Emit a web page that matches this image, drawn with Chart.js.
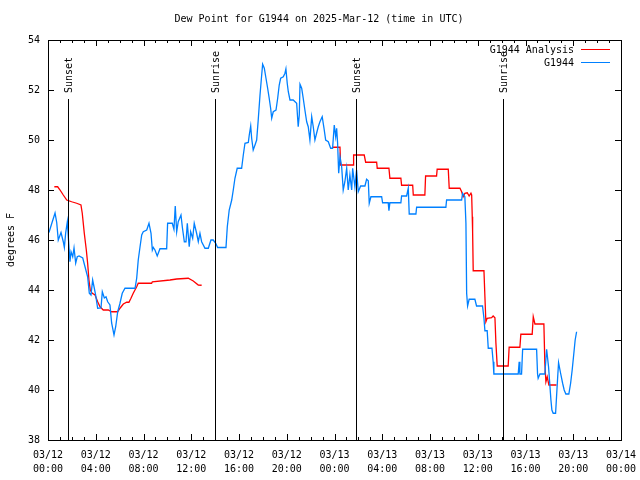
<!DOCTYPE html>
<html>
<head>
<meta charset="utf-8">
<script src="https://cdn.jsdelivr.net/npm/chart.js@4"></script>
<style>
  html, body { margin: 0; padding: 0; background: #fff; }
  canvas { display: block; }
</style>
</head>
<body>
<canvas id="dewChart" width="640" height="480"></canvas>
<script>
// hours since 03/12 00:00 UTC
const blueHours = [0.08, 0.34, 0.59, 0.73, 0.86, 1.09, 1.28, 1.37, 1.48, 1.62, 1.70, 1.84, 1.93, 2.07, 2.18, 2.32, 2.45, 2.60, 2.91, 3.10,
  3.32, 3.46, 3.60, 3.74, 3.88, 3.99, 4.16, 4.44, 4.55, 4.72, 4.86, 5.00, 5.19, 5.33, 5.53, 5.67, 5.84, 6.03, 6.22, 6.45,
  7.29, 7.43, 7.56, 7.71, 7.85, 7.98, 8.27, 8.46, 8.63, 8.74, 8.82, 8.96, 9.15, 9.38, 9.94, 10.02, 10.41, 10.55, 10.66, 10.78,
  10.91, 11.14, 11.25, 11.42, 11.56, 11.67, 11.83, 11.95, 12.12, 12.25, 12.45, 12.59, 12.73, 12.87, 13.15, 13.43, 13.65, 13.84, 14.05, 14.21,
  14.91, 15.02, 15.18, 15.39, 15.52, 15.66, 15.85, 16.22, 16.36, 16.50, 16.78, 16.86, 16.98, 17.06, 17.19, 17.34, 17.48, 17.61, 17.76, 17.90,
  17.98, 18.12, 18.26, 18.40, 18.53, 18.65, 18.74, 18.87, 19.10, 19.24, 19.37, 19.49, 19.71, 19.85, 19.93, 20.04, 20.13, 20.27, 20.54, 20.83,
  20.96, 21.05, 21.11, 21.25, 21.38, 21.52, 21.67, 21.80, 21.94, 22.09, 22.22, 22.36, 22.50, 22.64, 22.78, 22.97, 23.12, 23.26, 23.48, 23.68,
  23.84, 23.98, 24.10, 24.18, 24.26, 24.35, 24.46, 24.60, 24.73, 24.87, 25.02, 25.15, 25.29, 25.44, 25.52, 25.71, 25.85, 25.99, 26.19, 26.55,
  26.69, 26.83, 26.91, 27.05, 27.95, 28.03, 28.50, 28.56, 28.64, 29.56, 29.62, 30.04, 30.18, 30.26, 30.82, 30.88, 33.33, 33.39, 34.65, 34.73,
  34.92, 35.01, 35.07, 35.15, 35.28, 35.76, 35.90, 36.40, 36.52, 36.60, 36.79, 36.88, 37.19, 37.29, 37.35, 39.39, 39.47, 39.53, 39.67, 39.76,
  40.93, 41.01, 41.06, 41.21, 41.62, 41.77, 41.93, 42.04, 42.13, 42.21, 42.32, 42.52, 42.60, 42.69, 42.77, 42.94, 43.11, 43.24, 43.38, 43.63,
  43.78, 43.91, 44.05, 44.16, 44.28];
const blueValues = [46.3, 46.7, 47.08, 46.7, 46.0, 46.3, 45.93, 45.7, 46.28, 46.73, 46.13, 45.13, 45.53, 45.33, 45.68, 45.08, 45.33, 45.36, 45.28, 44.93,
  44.53, 43.87, 43.8, 44.4, 44.07, 43.8, 43.27, 43.28, 43.93, 43.68, 43.73, 43.53, 43.4, 42.68, 42.2, 42.53, 43.13, 43.47, 43.87, 44.07,
  44.07, 44.47, 45.2, 45.73, 46.2, 46.33, 46.4, 46.67, 46.27, 45.6, 45.7, 45.6, 45.36, 45.65, 45.65, 46.67, 46.67, 46.43, 47.36, 46.33,
  46.73, 47.0, 46.53, 45.93, 45.93, 46.67, 45.73, 46.33, 46.07, 46.67, 46.27, 45.93, 46.27, 45.93, 45.67, 45.67, 46.0, 46.0, 45.87, 45.7,
  45.7, 46.53, 47.2, 47.6, 48.0, 48.47, 48.87, 48.87, 49.4, 49.87, 49.9, 50.2, 50.56, 50.07, 49.6, 49.8, 50.0, 50.8, 51.8, 52.6,
  53.03, 52.87, 52.47, 52.07, 51.67, 51.27, 50.87, 51.13, 51.2, 51.67, 52.2, 52.47, 52.53, 52.67, 52.84, 52.27, 51.93, 51.6, 51.6, 51.47,
  50.53, 51.0, 52.23, 52.07, 51.67, 51.2, 50.73, 50.53, 50.0, 50.93, 50.53, 50.0, 50.27, 50.53, 50.73, 50.93, 50.47, 50.0, 49.93, 49.67,
  49.67, 50.6, 50.13, 50.47, 49.87, 48.67, 49.33, 48.93, 48.0, 48.33, 48.87, 48.0, 48.6, 48.0, 48.87, 48.13, 48.8, 47.93, 48.16, 48.16,
  48.43, 48.37, 47.47, 47.73, 47.73, 47.49, 47.49, 47.17, 47.49, 47.49, 47.76, 47.76, 48.07, 47.04, 47.04, 47.31, 47.31, 47.6, 47.6, 47.87,
  47.73, 46.67, 43.87, 43.36, 43.63, 43.63, 43.36, 43.36, 42.87, 42.37, 42.37, 41.67, 41.67, 41.13, 40.64, 40.64, 41.13, 40.64, 40.64, 41.63,
  41.63, 40.64, 40.47, 40.64, 40.64, 41.63, 40.93, 40.2, 39.6, 39.2, 39.07, 39.07, 39.73, 40.47, 41.09, 40.67, 40.27, 40.0, 39.84, 39.84,
  40.27, 40.8, 41.47, 42.0, 42.33];

const redHours = [0.53, 0.81, 1.01, 1.28, 1.57, 1.98, 2.40, 2.76, 2.87, 3.04, 3.21, 3.32, 3.43, 3.54, 3.71, 3.94, 4.16, 4.36, 4.63, 5.05,
  5.33, 5.84, 6.03, 6.31, 6.59, 6.78, 6.95, 7.14, 7.43, 7.56, 8.68, 8.74, 10.22, 10.78, 11.75, 12.17, 12.59, 12.87,
  18.0,
  23.87, 24.46, 24.51, 25.57, 25.60, 26.49, 26.61, 27.53, 27.58, 28.56, 28.64, 29.56, 29.62, 30.55, 30.60, 31.57, 31.63, 32.55, 32.60, 33.53,
  33.61, 34.51, 34.65, 34.78, 34.92, 35.12, 35.28, 35.43, 35.49, 35.54, 35.57, 35.62, 36.52, 36.60, 36.68, 36.79, 37.16, 37.29, 37.44, 37.52,
  37.63, 38.55, 38.63, 39.53, 39.61, 40.56, 40.65, 40.79, 41.54, 41.62, 41.71, 41.82, 41.96, 42.60];
const redValues = [48.13, 48.13, 48.0, 47.8, 47.6, 47.53, 47.47, 47.4, 47.07, 46.27, 45.6, 45.07, 44.4, 44.0, 43.87, 43.8, 43.53, 43.33, 43.2, 43.2,
  43.13, 43.13, 43.27, 43.44, 43.51, 43.51, 43.67, 43.87, 44.13, 44.27, 44.27, 44.33, 44.4, 44.44, 44.47, 44.36, 44.2, 44.19,
  null,
  49.71, 49.71, 49.0, 49.0, 49.4, 49.4, 49.11, 49.11, 48.87, 48.87, 48.47, 48.47, 48.19, 48.19, 47.8, 47.8, 48.56, 48.56, 48.83, 48.83,
  48.07, 48.07, 47.93, 47.73, 47.87, 47.89, 47.76, 47.87, 47.8, 46.93, 46.33, 44.77, 44.77, 43.73, 42.73, 42.87, 42.89, 42.96, 42.89, 41.89,
  40.96, 40.96, 41.71, 41.71, 42.23, 42.23, 42.93, 42.64, 42.64, 41.07, 40.33, 40.53, 40.2, 40.2];

const sunHours = [1.70, 14.0, 25.78, 38.1];
const sunLabels = ['Sunset', 'Sunrise', 'Sunset', 'Sunrise'];

const xTickLabels = [
  ['03/12', '00:00'], ['03/12', '04:00'], ['03/12', '08:00'], ['03/12', '12:00'],
  ['03/12', '16:00'], ['03/12', '20:00'], ['03/13', '00:00'], ['03/13', '04:00'],
  ['03/13', '08:00'], ['03/13', '12:00'], ['03/13', '16:00'], ['03/13', '20:00'], ['03/14', '00:00']
];

const FONT = 'DejaVu Sans Mono';
const RED = '#ff0000';
const BLUE = '#0080ff';

function pts(xs, ys) {
  return xs.map((x, i) => ({ x: x, y: ys[i] }));
}

// gnuplot-like frame, ticks, title, legend and sun markers
const framePlugin = {
  id: 'frame',
  afterDatasetsDraw(chart) {
    const ctx = chart.ctx;
    const a = chart.chartArea;
    const xs = chart.scales.x, ys = chart.scales.y;
    ctx.save();
    ctx.strokeStyle = '#000';
    ctx.lineWidth = 1;

    // sunrise / sunset lines
    ctx.fillStyle = '#000';
    ctx.font = '10px ' + FONT;
    sunHours.forEach((h, i) => {
      const x = Math.round(xs.getPixelForValue(h)) + 0.5;
      ctx.beginPath();
      ctx.moveTo(x, a.bottom);
      ctx.lineTo(x, a.top + 59);
      ctx.stroke();
      ctx.save();
      ctx.translate(x + 1, a.top + 53);
      ctx.rotate(-Math.PI / 2);
      ctx.textAlign = 'left';
      ctx.textBaseline = 'middle';
      ctx.fillText(sunLabels[i], 0, 0);
      ctx.restore();
    });

    // border
    ctx.strokeRect(a.left + 0.5, a.top + 0.5, a.right - a.left, a.bottom - a.top);

    // x ticks (major every 4h, minor every hour), mirrored top
    ctx.beginPath();
    for (let h = 0; h <= 48; h++) {
      const x = Math.round(xs.getPixelForValue(h)) + 0.5;
      const len = h % 4 === 0 ? 6 : 3;
      ctx.moveTo(x, a.bottom);
      ctx.lineTo(x, a.bottom - len);
      ctx.moveTo(x, a.top);
      ctx.lineTo(x, a.top + len);
    }
    // y ticks, mirrored right
    for (let v = 38; v <= 54; v += 2) {
      const y = Math.round(ys.getPixelForValue(v)) + 0.5;
      ctx.moveTo(a.left, y);
      ctx.lineTo(a.left + 6, y);
      ctx.moveTo(a.right, y);
      ctx.lineTo(a.right - 6, y);
    }
    ctx.stroke();

    // title
    ctx.font = '10px ' + FONT;
    ctx.textAlign = 'center';
    ctx.textBaseline = 'middle';
    ctx.fillText('Dew Point for G1944 on 2025-Mar-12 (time in UTC)', 319, 19);

    // y axis title
    ctx.save();
    ctx.translate(11, (a.top + a.bottom) / 2);
    ctx.rotate(-Math.PI / 2);
    ctx.fillText('degrees F', 0, 0);
    ctx.restore();

    // legend
    const entries = [['G1944 Analysis', RED, 50], ['G1944', BLUE, 63]];
    ctx.textAlign = 'right';
    entries.forEach(e => {
      ctx.fillStyle = '#000';
      ctx.fillText(e[0], 574, e[2]);
      ctx.strokeStyle = e[1];
      ctx.beginPath();
      ctx.moveTo(581, e[2] - 0.5);
      ctx.lineTo(610, e[2] - 0.5);
      ctx.stroke();
    });
    ctx.restore();
  }
};

const ctx = document.getElementById('dewChart').getContext('2d');
const dewChart = new Chart(ctx, {
  type: 'line',
  data: {
    datasets: [{
      label: 'G1944',
      data: pts(blueHours, blueValues),
      borderColor: BLUE,
      borderWidth: 1.3,
      pointRadius: 0,
      tension: 0,
      order: 0
    }, {
      label: 'G1944 Analysis',
      data: pts(redHours, redValues),
      borderColor: RED,
      borderWidth: 1.3,
      pointRadius: 0,
      tension: 0,
      spanGaps: false,
      order: 1
    }]
  },
  options: {
    responsive: false,
    animation: false,
    devicePixelRatio: 1,
    layout: { padding: { top: 40, right: 19, left: 0, bottom: 0 } },
    plugins: {
      legend: { display: false },
      title: { display: false },
      tooltip: { enabled: false }
    },
    scales: {
      x: {
        type: 'linear',
        min: 0,
        max: 48,
        afterFit: s => { s.height = 40; s.paddingLeft = 0; s.paddingRight = 0; },
        afterBuildTicks: s => { s.ticks = xTickLabels.map((_, i) => ({ value: i * 4 })); },
        grid: { display: false, drawTicks: false },
        border: { display: false },
        ticks: {
          autoSkip: false,
          maxRotation: 0,
          padding: 8,
          color: '#000',
          font: { family: FONT, size: 10, lineHeight: 1.4 },
          callback: (v, i) => xTickLabels[i]
        }
      },
      y: {
        min: 38,
        max: 54,
        afterFit: s => { s.width = 48; s.paddingTop = 0; s.paddingBottom = 0; },
        grid: { display: false, drawTicks: false },
        border: { display: false },
        ticks: {
          stepSize: 2,
          padding: 8,
          color: '#000',
          font: { family: FONT, size: 10 }
        }
      }
    }
  },
  plugins: [framePlugin]
});
</script>
</body>
</html>
